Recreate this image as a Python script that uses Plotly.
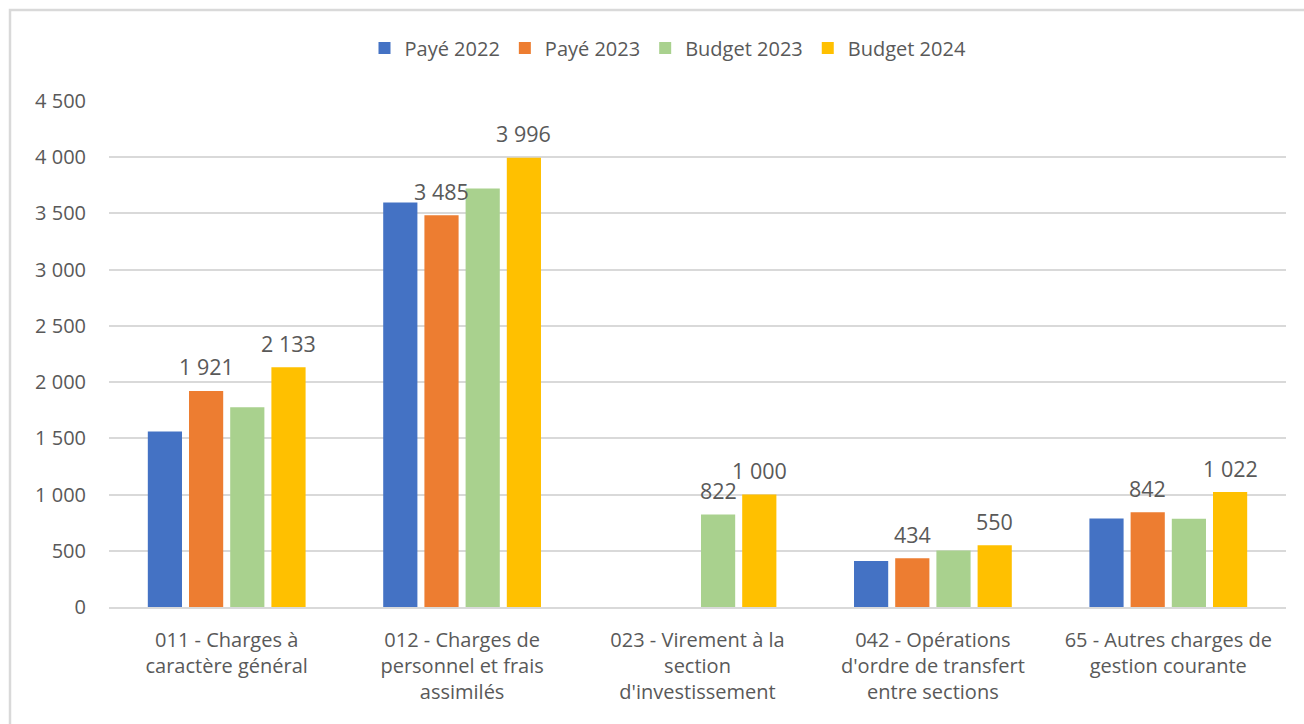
import plotly.graph_objects as go

# Chapitres budgétaires (section de fonctionnement, en k€)
categories = [
    "011 - Charges à<br>caractère général",
    "012 - Charges de<br>personnel et frais<br>assimilés",
    "023 - Virement à la<br>section<br>d'investissement",
    "042 - Opérations<br>d'ordre de transfert<br>entre sections",
    "65 - Autres charges de<br>gestion courante",
]

series_names = ["Payé 2022", "Payé 2023", "Budget 2023", "Budget 2024"]
paye_2022 = [1560, 3597, None, 408, 786]
paye_2023 = [1921, 3485, None, 434, 842]
budget_2023 = [1777, 3721, 822, 502, 784]
budget_2024 = [2133, 3996, 1000, 550, 1022]
series_values = [paye_2022, paye_2023, budget_2023, budget_2024]

# which bars carry a value label
label_paye_2022 = [0, 0, 0, 0, 0]
label_paye_2023 = [1, 1, 0, 1, 1]
label_budget_2023 = [0, 0, 1, 0, 0]
label_budget_2024 = [1, 1, 1, 1, 1]
series_labels = [label_paye_2022, label_paye_2023, label_budget_2023, label_budget_2024]

y_ticks = [0, 500, 1000, 1500, 2000, 2500, 3000, 3500, 4000, 4500]

colors = ["#4472C4", "#ED7D31", "#A9D18E", "#FFC000"]
text_color = "#595959"
grid_color = "#D9D9D9"
font_family = "Open Sans, Noto Sans, sans-serif"

W, H = 1304, 724
ML, MR, MT, MB = 109, 18, 101, 117
plot_w = W - ML - MR
plot_h = H - MT - MB
BARGAP = 0.30
BARGROUPGAP = 0.17


def fmt(v):
    return f"{v:,}".replace(",", " ")


fig = go.Figure()
for name, vals, col in zip(series_names, series_values, colors):
    fig.add_trace(go.Bar(
        name=name, x=categories, y=vals,
        marker=dict(color=col, line=dict(width=0)),
    ))

# value labels placed above their bar inside each group
cat_px = plot_w / len(categories)
slot_px = cat_px * (1 - BARGAP) / len(series_names)
n = len(series_names)
for i, (vals, flags) in enumerate(zip(series_values, series_labels)):
    for cat, v, f in zip(categories, vals, flags):
        if f and v is not None:
            fig.add_annotation(
                x=cat, y=v, text=fmt(v), showarrow=False,
                xshift=(i - (n - 1) / 2) * slot_px, yshift=24,
                yanchor="middle", xanchor="center",
                font=dict(size=21.5, color=text_color, family=font_family),
            )

# outer chart frame
def px_x(p):
    return (p - ML) / plot_w


def px_y(p):
    return (H - MB - p) / plot_h


fig.add_shape(
    type="rect", xref="paper", yref="paper",
    x0=px_x(10), x1=px_x(W + 10), y0=px_y(H + 10), y1=px_y(10),
    line=dict(color=grid_color, width=2.5), fillcolor="rgba(0,0,0,0)",
    layer="below",
)

fig.update_layout(
    width=W, height=H,
    margin=dict(l=ML, r=MR, t=MT, b=MB, pad=0),
    barmode="group", bargap=BARGAP, bargroupgap=BARGROUPGAP,
    paper_bgcolor="white", plot_bgcolor="white",
    separators=", ",
    font=dict(family=font_family, size=20, color=text_color),
    legend=dict(
        orientation="h", xref="container", yref="container",
        x=668 / W, y=1 - 48 / H, xanchor="center", yanchor="middle",
        font=dict(size=20, color=text_color), itemwidth=30,
        traceorder="normal",
    ),
    showlegend=True,
)

fig.update_yaxes(
    range=[0, 4500], tickvals=y_ticks, tickformat=",d",
    showgrid=True, gridcolor=grid_color, gridwidth=1.5,
    zeroline=False, showline=False, ticks="",
    ticklabelstandoff=22,
    tickfont=dict(size=20, color=text_color),
)
fig.update_xaxes(
    showline=True, linecolor=grid_color, linewidth=2,
    ticks="", ticklabelstandoff=14,
    tickfont=dict(size=20, color=text_color),
)

fig.write_html("out.html")
